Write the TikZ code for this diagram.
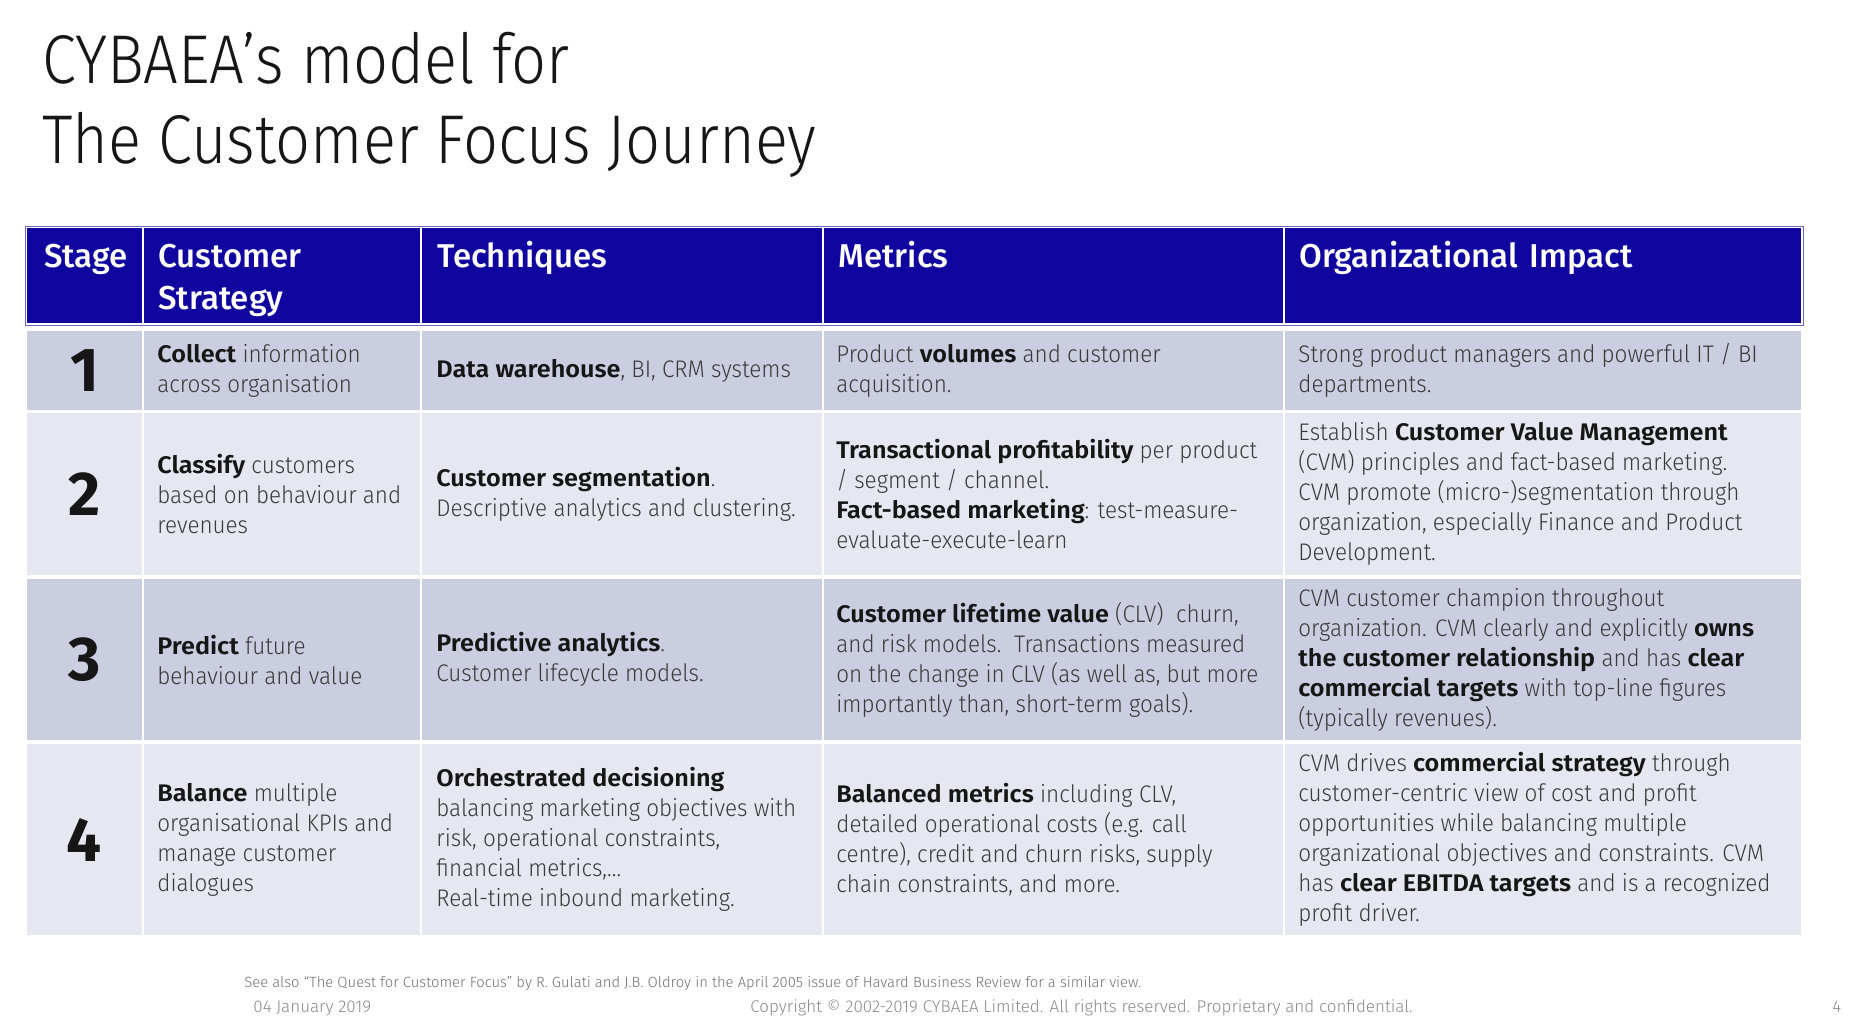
\documentclass[tikz,border=0pt]{standalone}
\usepackage{fontspec}
\newcommand\mybold{Fira Sans}
\IfFontExistsTF{Fira Sans SemiBold}{\renewcommand\mybold{Fira Sans SemiBold}}{}
\IfFontExistsTF{Fira Sans Light}
  {\setmainfont{Fira Sans Light}[UprightFeatures={FakeStretch=0.935}, BoldFont={\mybold}, BoldFeatures={FakeStretch=1.05}]
   \newfontfamily\footfont{Fira Sans Light}
   \newfontfamily\titlefont{Fira Sans Light}[FakeStretch=0.89]}
  {\setmainfont{Fira Sans}
   \newfontfamily\footfont{Fira Sans}
   \newfontfamily\titlefont{Fira Sans}[FakeStretch=0.89]}
\IfFontExistsTF{Fira Sans Medium}
  {\newfontfamily\headfont{Fira Sans Medium}}
  {\newfontfamily\headfont{Fira Sans}}
\newfontfamily\numfont{Fira Sans}[UprightFont=*, BoldFont=* Bold]
\definecolor{hdr}{HTML}{10069F}
\definecolor{hdrline}{HTML}{6A64C8}
\definecolor{rowA}{HTML}{CBCDE0}
\definecolor{rowB}{HTML}{E6E7F1}
\definecolor{txt}{HTML}{3A3A3A}
\definecolor{ink}{HTML}{161616}
\definecolor{foot}{HTML}{8A8A8A}
\definecolor{note}{HTML}{707070}
\newcommand\B[1]{{\bfseries\color{ink}#1}}
\tikzset{
  cellbg/.style={draw=white, line width=1pt, inner sep=0pt},
  hdrbg/.style={fill=hdr, draw=white, line width=1pt, inner sep=0pt},
  celltext/.style={anchor=west, inner sep=0pt, align=left, text=txt,
    font=\fontsize{12}{15}\selectfont},
  hdrtext/.style={anchor=base west, inner sep=0pt, text=white,
    font=\headfont\fontsize{16.5}{21}\selectfont},
  stagenum/.style={inner sep=0pt, text=ink, font=\numfont\bfseries\fontsize{31}{31}\selectfont},
  titletext/.style={anchor=base west, inner sep=0pt, text=ink,
    font=\titlefont\fontsize{34.5}{40}\selectfont},
  foottext/.style={anchor=base west, inner sep=0pt, text=foot,
    font=\footfont\fontsize{8.5}{10}\selectfont},
}
\begin{document}
\begin{tikzpicture}[x=0.5pt, y=-0.5pt]
\useasboundingbox (0,0) rectangle (1856,1030);
% title
\node[titletext] (title1) at (42,83) {CYBAEA’s model for};
\node[titletext] (title2) at (42,163) {The Customer Focus Journey};
% header row
\node[hdrbg, minimum width=58.5pt, minimum height=48.5pt] (h1) at (84.5,275.5) {};
\node[hdrbg, minimum width=139pt, minimum height=48.5pt] (h2) at (282,275.5) {};
\node[hdrbg, minimum width=201pt, minimum height=48.5pt] (h3) at (622,275.5) {};
\node[hdrbg, minimum width=230.5pt, minimum height=48.5pt] (h4) at (1053.5,275.5) {};
\node[hdrbg, minimum width=259pt, minimum height=48.5pt] (h5) at (1543,275.5) {};
\draw[hdrline, line width=0.5pt] (h1.north west) rectangle (h5.south east);
\node[hdrtext] (ht1) at (44,267) {Stage};
\node[hdrtext] (ht2a) at (158,267) {Customer};
\node[hdrtext] (ht2b) at (158,309) {Strategy};
\node[hdrtext] (ht3) at (437,267) {Techniques};
\node[hdrtext] (ht4) at (838,267) {Metrics};
\node[hdrtext] (ht5) at (1299,267) {Organizational\hspace{0.1em} Impact};
% row backgrounds: row 1
\node[cellbg, fill=rowA, minimum width=58.5pt, minimum height=40.5pt] (c11) at (84.5,370.5) {};
\node[cellbg, fill=rowA, minimum width=139pt, minimum height=40.5pt] (c12) at (282,370.5) {};
\node[cellbg, fill=rowA, minimum width=201pt, minimum height=40.5pt] (c13) at (622,370.5) {};
\node[cellbg, fill=rowA, minimum width=230.5pt, minimum height=40.5pt] (c14) at (1053.5,370.5) {};
\node[cellbg, fill=rowA, minimum width=259pt, minimum height=40.5pt] (c15) at (1543,370.5) {};
% row 2
\node[cellbg, fill=rowB, minimum width=58.5pt, minimum height=82pt] (c21) at (84.5,494) {};
\node[cellbg, fill=rowB, minimum width=139pt, minimum height=82pt] (c22) at (282,494) {};
\node[cellbg, fill=rowB, minimum width=201pt, minimum height=82pt] (c23) at (622,494) {};
\node[cellbg, fill=rowB, minimum width=230.5pt, minimum height=82pt] (c24) at (1053.5,494) {};
\node[cellbg, fill=rowB, minimum width=259pt, minimum height=82pt] (c25) at (1543,494) {};
% row 3
\node[cellbg, fill=rowA, minimum width=58.5pt, minimum height=81.5pt] (c31) at (84.5,659.5) {};
\node[cellbg, fill=rowA, minimum width=139pt, minimum height=81.5pt] (c32) at (282,659.5) {};
\node[cellbg, fill=rowA, minimum width=201pt, minimum height=81.5pt] (c33) at (622,659.5) {};
\node[cellbg, fill=rowA, minimum width=230.5pt, minimum height=81.5pt] (c34) at (1053.5,659.5) {};
\node[cellbg, fill=rowA, minimum width=259pt, minimum height=81.5pt] (c35) at (1543,659.5) {};
% row 4
\node[cellbg, fill=rowB, minimum width=58.5pt, minimum height=96.5pt] (c41) at (84.5,839.5) {};
\node[cellbg, fill=rowB, minimum width=139pt, minimum height=96.5pt] (c42) at (282,839.5) {};
\node[cellbg, fill=rowB, minimum width=201pt, minimum height=96.5pt] (c43) at (622,839.5) {};
\node[cellbg, fill=rowB, minimum width=230.5pt, minimum height=96.5pt] (c44) at (1053.5,839.5) {};
\node[cellbg, fill=rowB, minimum width=259pt, minimum height=96.5pt] (c45) at (1543,839.5) {};
% stage numbers
\node[stagenum] (n1) at (c11.center) {1};
\node[stagenum] (n2) at (c21.center) {2};
\node[stagenum] (n3) at (c31.center) {3};
\node[stagenum] (n4) at (c41.center) {4};
% row 1 texts
\node[celltext] (t12) at ([xshift=7.5pt]c12.west) {\B{Collect} information\\across organisation};
\node[celltext] (t13) at ([xshift=8pt]c13.west) {\B{Data warehouse}, BI, CRM systems};
\node[celltext] (t14) at ([xshift=7pt]c14.west) {Product \B{volumes} and customer\\acquisition.};
\node[celltext] (t15) at ([xshift=7.5pt]c15.west) {Strong product managers and powerful IT / BI\\departments.};
% row 2 texts
\node[celltext] (t22) at ([xshift=7.5pt]c22.west) {\B{Classify} customers\\based on behaviour and\\revenues};
\node[celltext] (t23) at ([xshift=8pt]c23.west) {\B{Customer segmentation}.\\Descriptive analytics and clustering.};
\node[celltext] (t24) at ([xshift=7pt]c24.west) {\B{Transactional profitability} per product\\/ segment / channel.\\\B{Fact-based marketing}: test-measure-\\evaluate-execute-learn};
\node[celltext] (t25) at ([xshift=7.5pt]c25.west) {Establish \B{Customer Value Management}\\(CVM) principles and fact-based marketing.\\CVM promote (micro-)segmentation through\\organization, especially Finance and Product\\Development.};
% row 3 texts
\node[celltext] (t32) at ([xshift=7.5pt]c32.west) {\B{Predict} future\\behaviour and value};
\node[celltext] (t33) at ([xshift=8pt]c33.west) {\B{Predictive analytics}.\\Customer lifecycle models.};
\node[celltext] (t34) at ([xshift=7pt]c34.west) {\B{Customer lifetime value} (CLV)\ \ churn,\\and risk models.\ \ Transactions measured\\on the change in CLV (as well as, but more\\importantly than, short-term goals).};
\node[celltext] (t35) at ([xshift=7.5pt]c35.west) {CVM customer champion throughout\\organization. CVM clearly and explicitly \B{owns}\\\B{the customer relationship} and has \B{clear}\\\B{commercial targets} with top-line figures\\(typically revenues).};
% row 4 texts
\node[celltext] (t42) at ([xshift=7.5pt]c42.west) {\B{Balance} multiple\\organisational KPIs and\\manage customer\\dialogues};
\node[celltext] (t43) at ([xshift=8pt]c43.west) {\B{Orchestrated decisioning}\\balancing marketing objectives with\\risk, operational constraints,\\financial metrics,…\\Real-time inbound marketing.};
\node[celltext] (t44) at ([xshift=7pt]c44.west) {\B{Balanced metrics} including CLV,\\detailed operational costs (e.g. call\\centre), credit and churn risks, supply\\chain constraints, and more.};
\node[celltext] (t45) at ([xshift=7.5pt]c45.west) {CVM drives \B{commercial strategy} through\\customer-centric view of cost and profit\\opportunities while balancing multiple\\organizational objectives and constraints. CVM\\has \B{clear EBITDA targets} and is a recognized\\profit driver.};
% footer
\node[foottext, text=note, font=\footfont\fontsize{7.4}{9}\selectfont] (fn) at (244,987) {See also “The Quest for Customer Focus” by R. Gulati and J.B. Oldroy in the April 2005 issue of Havard Business Review for a similar view.};
\node[foottext] (date) at (253,1012) {04 January 2019};
\node[foottext] (copy) at (750,1012) {Copyright © 2002-2019 CYBAEA Limited. All rights reserved. Proprietary and confidential.};
\node[foottext] (page) at (1832,1012) {4};
\end{tikzpicture}
\end{document}
